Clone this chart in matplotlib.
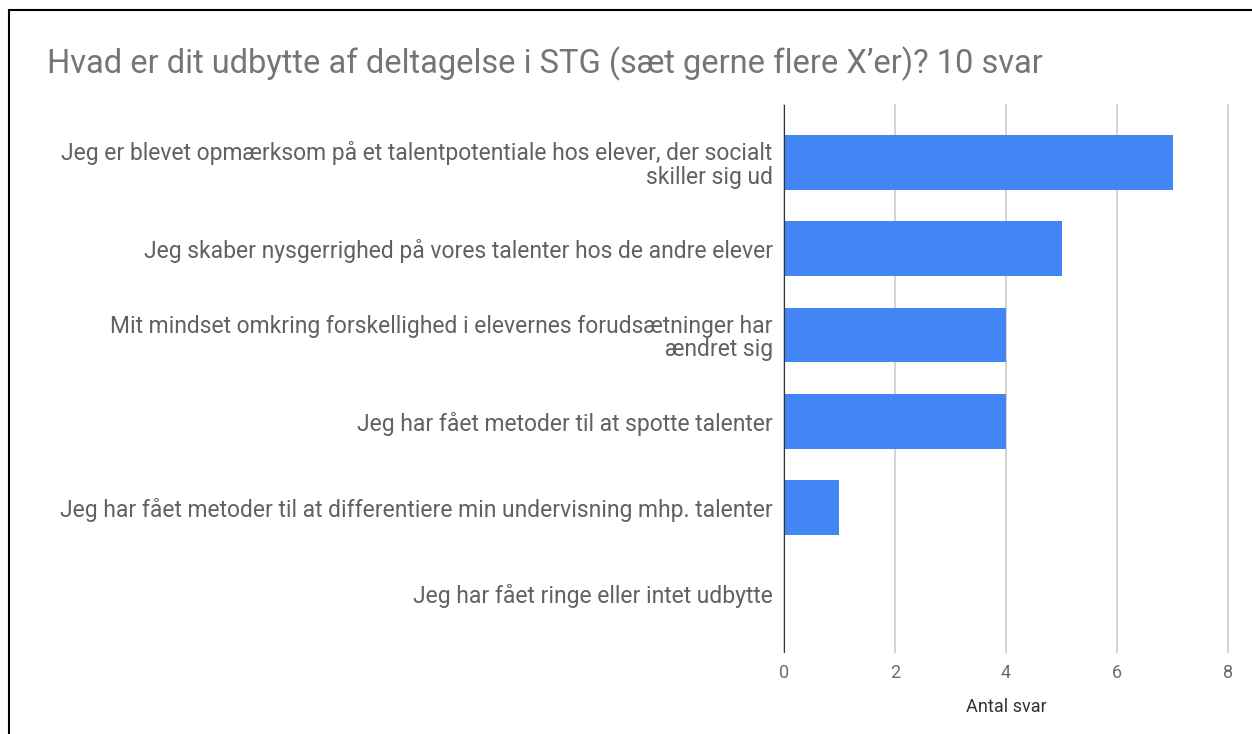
import matplotlib.pyplot as plt
from matplotlib.patches import Rectangle

plt.rcParams['font.family'] = ['Roboto', 'DejaVu Sans']

labels = [
    "Jeg er blevet opmærksom på et talentpotentiale hos elever, der socialt\nskiller sig ud",
    "Jeg skaber nysgerrighed på vores talenter hos de andre elever",
    "Mit mindset omkring forskellighed i elevernes forudsætninger har\nændret sig",
    "Jeg har fået metoder til at spotte talenter",
    "Jeg har fået metoder til at differentiere min undervisning mhp. talenter",
    "Jeg har fået ringe eller intet udbytte",
]
counts = [7, 5, 4, 4, 1, 0]
xticks = [0, 2, 4, 6, 8]

fig = plt.figure(figsize=(12.52, 7.34), dpi=100)
ax = fig.add_axes([0.626, 0.112, 0.355, 0.745])

pos = list(range(len(labels)))
ax.barh(pos, counts, height=0.63, color="#4285F4", zorder=3)

ax.set_xlim(0, 8)
ax.set_ylim(5.67, -0.665)
ax.set_xticks(xticks)
ax.set_xticklabels([str(t) for t in xticks], color="#6b6b6b", fontsize=13)
ax.set_yticks(pos)
ax.set_yticklabels(labels, fontsize=16.5, color="#616161", linespacing=1.05)
ax.tick_params(axis="both", length=0)
ax.tick_params(axis="y", pad=8)
ax.tick_params(axis="x", pad=9)
ax.grid(axis="x", color="#cccccc", linewidth=1.2, zorder=0)
for gl in ax.get_xgridlines():
    gl.set_clip_on(False)
for s in ["top", "right", "bottom"]:
    ax.spines[s].set_visible(False)
ax.spines["left"].set_color("#333333")
ax.spines["left"].set_zorder(4)
ax.set_xlabel("Antal svar", fontsize=13, color="#333333", labelpad=11)

fig.text(47 / 1252, 1 - 64 / 734, "Hvad er dit udbytte af deltagelse i STG (sæt gerne flere X’er)? 10 svar",
         fontsize=23.5, color="#757575", va="center", ha="left")

fig.patches.append(Rectangle((9 / 1252, -0.1), 1.2, 1.1 - 10 / 734, transform=fig.transFigure,
                             fill=False, edgecolor="black", linewidth=1.5))

fig.savefig("out.png", dpi=100)
